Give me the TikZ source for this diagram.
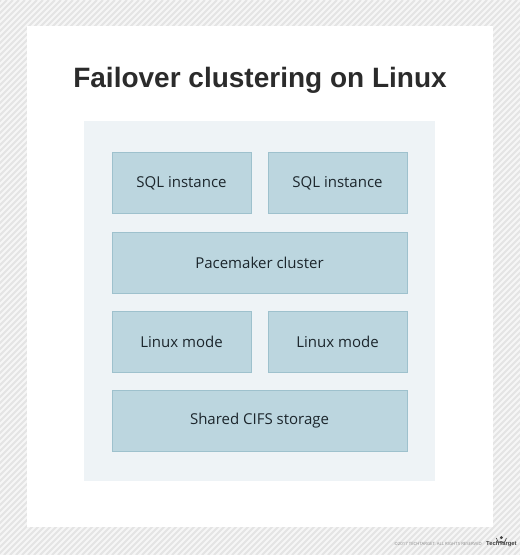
\documentclass[tikz,border=0pt]{standalone}
\usepackage{fontspec}
\setmainfont{Open Sans}
\newfontfamily\titlefont{Liberation Sans}
\usepackage{tikz}
\definecolor{stripebg}{RGB}{246,246,246}
\definecolor{stripe}{RGB}{228,228,228}
\definecolor{panel}{RGB}{238,243,246}
\definecolor{boxfill}{RGB}{188,214,223}
\definecolor{boxline}{RGB}{158,193,205}
\definecolor{boxtext}{RGB}{28,38,44}
\definecolor{titletext}{RGB}{43,43,43}
\definecolor{smallprint}{RGB}{140,140,140}
\tikzset{
  unit/.style={draw=boxline, fill=boxfill, line width=0.8pt, inner sep=0pt,
    minimum width=139pt, minimum height=61pt, text=boxtext,
    font=\fontsize{15}{17}\selectfont},
  wideunit/.style={unit, minimum width=295pt}
}

\begin{document}
\begin{tikzpicture}[x=1pt,y=-1pt]
\useasboundingbox (0,0) rectangle (520,555);
% striped backdrop
\fill[stripebg] (0,0) rectangle (520,555);
\begin{scope}
  \clip (0,0) rectangle (520,555);
  \foreach \i in {-560,-554,...,520}{
    \draw[stripe, line width=2pt] (\i,555)--++(555,-555);
  }
\end{scope}
\fill[white] (27,26) rectangle (493,527);
\fill[panel] (84,121) rectangle (435,481);
% title
\node[anchor=base, text=titletext, font=\titlefont\bfseries\fontsize{28}{32}\selectfont] (title) at (260,87) {Failover clustering on Linux};
% stack
\node[unit] (sqlLeft) at (181.5,183) {SQL instance};
\node[unit] (sqlRight) at (337.5,183) {SQL instance};
\node[wideunit] (pacemaker) at (259.5,262.5) {Pacemaker cluster};
\node[unit] (linuxLeft) at (181.5,341.5) {Linux mode};
\node[unit] (linuxRight) at (337.5,341.5) {Linux mode};
\node[wideunit] (cifs) at (259.5,420.5) {Shared CIFS storage};
% footer
\node[anchor=east, text=smallprint, font=\fontsize{4.3}{5}\selectfont, inner sep=0pt] (rights) at (482,544) {\textcopyright2017 TECHTARGET. ALL RIGHTS RESERVED};
\node[anchor=west, text=black!75, font=\titlefont\bfseries\fontsize{5.8}{6}\selectfont, inner sep=0pt] (brand) at (486,544) {TechTarget};
\draw[black!75, line width=0.6pt] (brand.north) ++(-5,-3) arc[start angle=180, end angle=0, radius=5];
\fill[black!75] (brand.north) ++(0,-3.5) circle[radius=1.6];
\end{tikzpicture}
\end{document}
